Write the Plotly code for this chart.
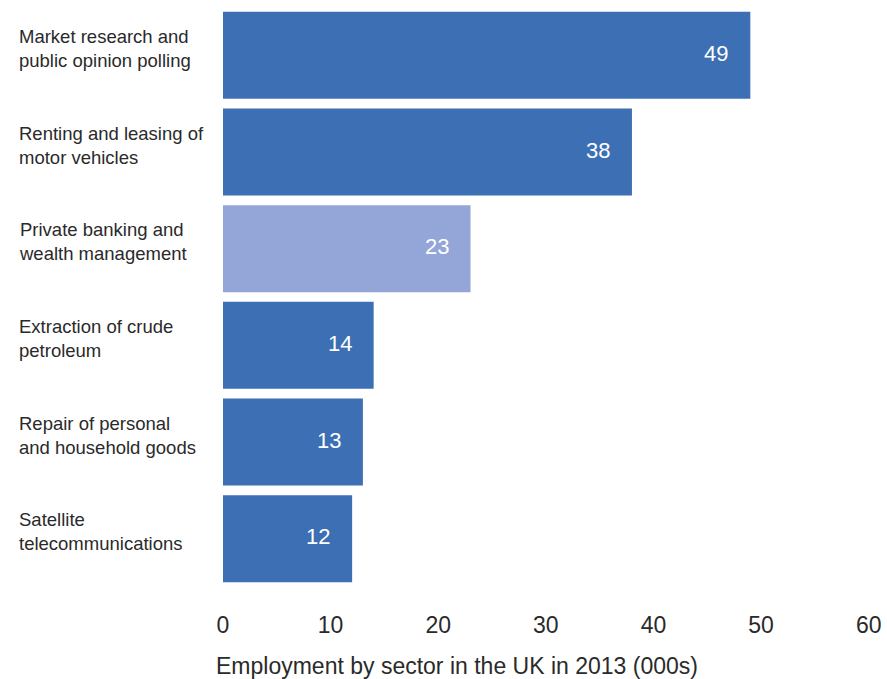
import plotly.graph_objects as go

categories = [
    "Market research and<br>public opinion polling",
    "Renting and leasing of<br>motor vehicles",
    "Private banking and<br>wealth management",
    "Extraction of crude<br>petroleum",
    "Repair of personal<br>and household goods",
    "Satellite<br>telecommunications",
]
values = [49, 38, 23, 14, 13, 12]
highlight = [False, False, True, False, False, False]
tick_vals = [0, 10, 20, 30, 40, 50, 60]
axis_title = "Employment by sector in the UK in 2013 (000s)"

DARK = "#3d6fb5"
LIGHT = "#93a6d7"
FONT = "Liberation Sans"
TEXT = "#2a2a2a"

colors = [LIGHT if h else DARK for h in highlight]

fig = go.Figure(
    go.Bar(
        x=values,
        y=categories,
        orientation="h",
        marker=dict(color=colors, line=dict(width=0)),
        hoverinfo="skip",
    )
)

annotations = []
for c, v in zip(categories, values):
    annotations.append(dict(
        x=v, y=c, xref="x", yref="y", text=str(v), showarrow=False,
        xanchor="right", xshift=-20, yshift=2,
        font=dict(family=FONT, size=22, color="white"),
    ))
    annotations.append(dict(
        x=0, y=c, xref="paper", yref="y", text=c, showarrow=False,
        xanchor="left", align="left", xshift=-206, yshift=7,
        font=dict(family=FONT, size=18.5, color=TEXT),
    ))

annotations.append(dict(
    x=0.352, y=0, xref="paper", yref="paper", text=axis_title,
    showarrow=False, xanchor="center", yanchor="middle", yshift=-79,
    font=dict(family=FONT, size=23, color=TEXT),
))

fig.update_layout(
    width=887, height=679,
    margin=dict(l=223, r=0, t=7, b=92),
    paper_bgcolor="white", plot_bgcolor="white",
    bargap=0.1,
    showlegend=False,
    annotations=annotations,
    xaxis=dict(
        range=[0, 61.7], tickvals=tick_vals, showgrid=False, zeroline=False,
        showline=False, ticks="", ticklabelstandoff=22,
        tickfont=dict(family=FONT, size=23, color=TEXT),
    ),
    yaxis=dict(
        autorange="reversed", showticklabels=False, showgrid=False,
        zeroline=False, showline=False, ticks="",
    ),
)

fig.write_html("out.html")
